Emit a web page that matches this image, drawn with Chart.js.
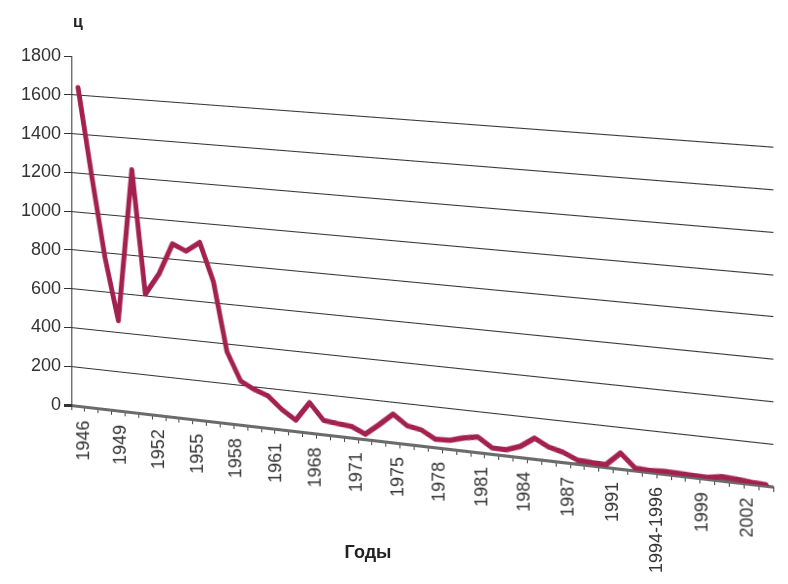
<!DOCTYPE html>
<html>
<head>
<meta charset="utf-8">
<script src="https://cdn.jsdelivr.net/npm/chart.js@4"></script>
<style>
  body { margin: 0; background: #fff; }
  canvas { display: block; }
</style>
</head>
<body>
<canvas id="chart" width="788" height="584"></canvas>
<script>
// категории оси X (годы)
const years = ['1946', '1947', '1948', '1949', '1950', '1951', '1952', '1953', '1954', '1955',
  '1956', '1957', '1958', '1959', '1960', '1961', '1962', '1963', '1968', '1969',
  '1970', '1971', '1973', '1974', '1975', '1976', '1977', '1978', '1979', '1980',
  '1981', '1982', '1983', '1984', '1985', '1986', '1987', '1989', '1990', '1991',
  '1992', '1993', '1994-1996', '1997', '1998', '1999', '2000', '2001', '2002', '2003'];

// значения, ц
const values = [1640, 1200, 780, 460, 1240, 610, 720, 880, 850, 900,
  710, 360, 220, 185, 160, 100, 55, 150, 70, 62,
  56, 25, 80, 140, 90, 78, 40, 42, 62, 75,
  30, 28, 52, 100, 65, 48, 18, 14, 12, 75,
  12, 8, 12, 10, 8, 6, 18, 14, 8, 4];

// подписи осей
const yUnit = 'ц';
const xTitle = 'Годы';
const yMin = 0, yMax = 1800, yStep = 200;
const labelEvery = 3;

// "3D" перспектива: центр категории i на экране, наклон и растяжение по вертикали
const persp = { x0: 78, a: 13.4, b: 0.0131, slope: 0.116, grow: 0.000132 };
// подписи оси X в Excel сидят на передней кромке, у них свой шаг
const labPersp = { x0: 84, a: 12.333, b: 0.03125 };

function catAt(px) {
  return (-persp.a + Math.sqrt(persp.a * persp.a + 4 * persp.b * (px - persp.x0))) / (2 * persp.b);
}

const font = '"Liberation Sans", Arial, sans-serif';

// перерисовываем готовый график по столбцам, чтобы получить наклон как в Excel
const tilt = {
  id: 'tilt',
  afterDraw(chart) {
    let c = chart.canvas, ctx = chart.ctx;
    let W = c.width, H = c.height;
    let src = document.createElement('canvas');
    src.width = W; src.height = H;
    src.getContext('2d').drawImage(c, 0, 0);

    let xs = chart.scales.x, ys = chart.scales.y;
    let u0 = xs.getPixelForValue(0);
    let du = xs.getPixelForValue(1) - u0;
    let y0 = ys.getPixelForValue(0);
    let left = Math.round(chart.chartArea.left);
    let band = Math.round(y0 + 7); // ниже – подписи оси X

    ctx.save();
    ctx.setTransform(1, 0, 0, 1, 0, 0);
    ctx.clearRect(0, 0, W, H);
    // ось Y с подписями остаётся как есть
    let keep = Math.round(y0 + 12);
    ctx.drawImage(src, 0, 0, left, keep, 0, 0, left, keep);

    // область графика: столбец за столбцом
    for (let X = left; X < W; X++) {
      let s0 = u0 + catAt(X) * du;
      let s1 = u0 + catAt(X + 1) * du;
      if (s0 >= W) break;
      let d = X + 0.5 - left;
      let r = 1 + persp.grow * d;
      let base = y0 + persp.slope * d;
      ctx.drawImage(src, s0, 0, s1 - s0, band, X, base - y0 * r, 1, band * r);
    }

    // подписи: каждая сдвигается целиком, без наклона
    let hw = 14;
    for (let k = 0; k < years.length; k += labelEvery) {
      let sc = xs.getPixelForValue(k);
      let L = labPersp.x0 + labPersp.a * k + labPersp.b * k * k;
      let dy = persp.slope * (L - left);
      ctx.drawImage(src, sc - hw, band, 2 * hw, H - band, L - hw, band + dy, 2 * hw, H - band);
    }

    ctx.fillStyle = '#222';
    ctx.textAlign = 'center';
    ctx.textBaseline = 'middle';
    ctx.font = 'bold 16px ' + font;
    ctx.fillText(yUnit, 78, 23);
    ctx.font = 'bold 18px ' + font;
    ctx.fillText(xTitle, 368, 553);
    ctx.restore();
  }
};

new Chart(document.getElementById('chart'), {
  type: 'line',
  data: {
    labels: years,
    datasets: [{
      data: values,
      borderColor: '#a3214f',
      borderWidth: 5,
      borderJoinStyle: 'round',
      borderCapStyle: 'round',
      pointRadius: 0,
      tension: 0,
      fill: false
    }]
  },
  options: {
    responsive: false,
    devicePixelRatio: 1,
    animation: false,
    events: [],
    layout: { padding: { top: 56, right: 17, left: 0, bottom: 0 } },
    plugins: {
      legend: { display: false },
      title: { display: false },
      tooltip: { enabled: false }
    },
    scales: {
      x: {
        offset: true,
        afterFit: function (s) { s.height = 179; },
        border: { display: false },
        grid: {
          offset: true,
          drawOnChartArea: false,
          drawTicks: true,
          tickLength: 5,
          color: '#444'
        },
        ticks: {
          autoSkip: false,
          maxRotation: 90,
          minRotation: 90,
          padding: 9,
          color: '#333',
          font: { family: font, size: 18 },
          callback: function (v, i) { return i % labelEvery === 0 ? years[i] : ''; }
        }
      },
      y: {
        min: yMin,
        max: yMax,
        afterFit: function (s) { s.width = 71; },
        border: { display: true, color: '#333', width: 1 },
        grid: {
          color: function (c) {
            if (c.tick.value === yMax) return 'rgba(0,0,0,0)';
            return c.tick.value === 0 ? '#6b6b6b' : '#333';
          },
          lineWidth: function (c) { return c.tick.value === 0 ? 3 : 1; },
          tickColor: '#333',
          tickLength: 7
        },
        ticks: {
          stepSize: yStep,
          padding: 3,
          color: '#333',
          font: { family: font, size: 18 },
          callback: function (v) { return String(v); }
        }
      }
    }
  },
  plugins: [tilt]
});
</script>
</body>
</html>
